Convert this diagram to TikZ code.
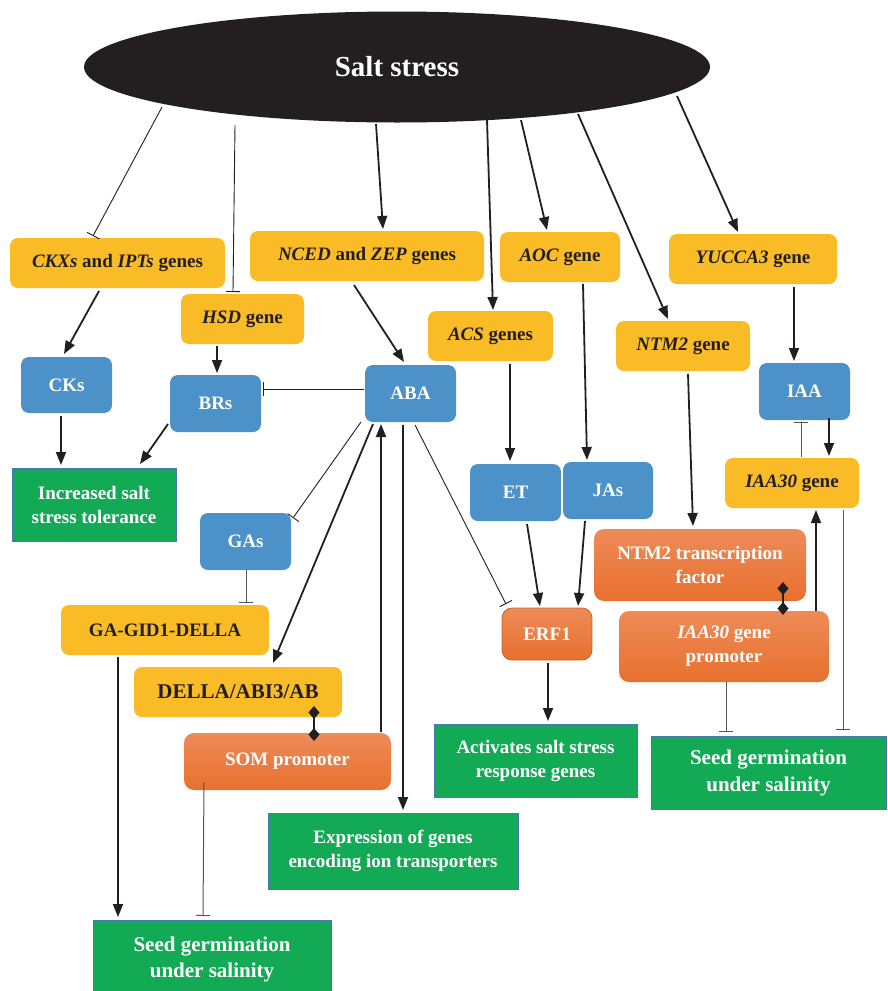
\documentclass[tikz,border=0pt]{standalone}
\usepackage{fontspec}
\setmainfont{Liberation Serif}
\usetikzlibrary{arrows.meta,calc,shapes.geometric}
\definecolor{yfill}{HTML}{F9BC27}
\definecolor{bfill}{HTML}{4C91C7}
\definecolor{gfill}{HTML}{12AA54}
\definecolor{gedge}{HTML}{4F72B8}
\definecolor{otop}{HTML}{EE8B59}
\definecolor{obot}{HTML}{E8702D}
\definecolor{oedge}{HTML}{C4622A}
\definecolor{txt}{HTML}{231F20}
\definecolor{lc}{HTML}{231F20}
\definecolor{lgray}{HTML}{555555}
\begin{document}
\begin{tikzpicture}[x=1pt,y=-1pt,
 base/.style={inner sep=0pt, align=center, font=\fontsize{19}{24}\selectfont\bfseries},
 ygene/.style={base, fill=yfill, rounded corners=8pt, text=txt},
 hbox/.style={base, fill=bfill, rounded corners=8pt, text=white},
 gbox/.style={base, fill=gfill, draw=gedge, line width=0.8pt, text=white},
 obox/.style={base, top color=otop, bottom color=obot, rounded corners=10pt, text=white},
 actv/.style={-{Triangle[length=13pt,width=10pt]}, line width=1.8pt, draw=lc},
 inh/.style={-{Bar[width=14pt]}, line width=0.9pt, draw=lc},
 inhg/.style={-{Bar[width=14pt]}, line width=1pt, draw=lgray},
 bind/.style={{Diamond[length=13pt,width=11pt]}-{Diamond[length=13pt,width=11pt]}, line width=1.6pt, draw=lc},
]
\useasboundingbox (0,0) rectangle (887,991);

% top ellipse
\node[ellipse, fill=txt, minimum width=626pt, minimum height=111pt, inner sep=0pt,
      text=white, font=\fontsize{29}{34}\selectfont\bfseries] (salt) at (397,67) {Salt stress};

% yellow gene boxes
\node[ygene, minimum width=215pt, minimum height=50pt] (ckxs) at (117.5,263) {\textit{CKXs} and \textit{IPTs} genes};
\node[ygene, minimum width=123pt, minimum height=50pt] (hsd) at (242.5,319) {\textit{HSD} gene};
\node[ygene, minimum width=234pt, minimum height=50pt] (nced) at (367,256) {\textit{NCED} and \textit{ZEP} genes};
\node[ygene, minimum width=120pt, minimum height=50pt] (aoc) at (560,257) {\textit{AOC} gene};
\node[ygene, minimum width=125pt, minimum height=50pt] (acs) at (490.5,336) {\textit{ACS} genes};
\node[ygene, minimum width=168pt, minimum height=50pt] (yucca) at (753,259) {\textit{YUCCA3} gene};
\node[ygene, minimum width=134pt, minimum height=50pt] (ntmg) at (683,346) {\textit{NTM2} gene};
\node[ygene, minimum width=134pt, minimum height=50pt] (iaag) at (792,483) {\textit{IAA30} gene};
\node[ygene, minimum width=208pt, minimum height=50pt] (gagid) at (165,630) {GA-GID1-DELLA};
\node[ygene, minimum width=208pt, minimum height=50pt, font=\fontsize{21}{25}\selectfont\bfseries] (della) at (238,692) {DELLA/ABI3/AB};

% blue hormone boxes
\node[hbox, minimum width=91pt, minimum height=56pt] (cks) at (66.5,385) {CKs};
\node[hbox, minimum width=91pt, minimum height=57pt] (brs) at (215.5,403.5) {BRs};
\node[hbox, minimum width=91pt, minimum height=57pt] (aba) at (410.5,393.5) {ABA};
\node[hbox, minimum width=91pt, minimum height=57pt] (iaa) at (804.5,391.5) {IAA};
\node[hbox, minimum width=91pt, minimum height=57pt] (gas) at (245.5,541.5) {GAs};
\node[hbox, minimum width=91pt, minimum height=57pt] (et) at (515.5,492.5) {ET};
\node[hbox, minimum width=90pt, minimum height=57pt] (jas) at (608,490.5) {JAs};

% orange boxes
\node[obox, minimum width=212pt, minimum height=72pt] (ntmtf) at (700,565) {NTM2 transcription\\factor};
\node[obox, draw=oedge, line width=0.8pt, minimum width=90pt, minimum height=52pt] (erf) at (547,634) {ERF1};
\node[obox, minimum width=210pt, minimum height=71pt] (iaap) at (724,646.5) {\textit{IAA30} gene\\promoter};
\node[obox, minimum width=207pt, minimum height=57pt] (som) at (287.5,761.5) {SOM promoter};

% green outcome boxes
\node[gbox, minimum width=164pt, minimum height=73pt] (incr) at (94,504.5) {Increased salt\\stress tolerance};
\node[gbox, minimum width=203pt, minimum height=73pt] (act) at (535.5,760.5) {Activates salt stress\\response genes};
\node[gbox, minimum width=235pt, minimum height=73pt, font=\fontsize{21}{27}\selectfont\bfseries] (seedr) at (768.5,772.5) {Seed germination\\under salinity};
\node[gbox, minimum width=250pt, minimum height=76pt] (expr) at (393,851) {Expression of genes\\encoding ion transporters};
\node[gbox, minimum width=238pt, minimum height=78pt, font=\fontsize{21}{27}\selectfont\bfseries] (seedl) at (212,959) {\raisebox{4pt}{\begin{tabular}{@{}c@{}}Seed germination\\[-1pt]under salinity\end{tabular}}};

% connectors from salt stress
\draw[inh] ($(salt)+(-235,40)$) -- ($(ckxs)+(-24.5,-27)$);
\draw[inh] ($(salt)+(-162,58)$) -- ($(hsd)+(-9.5,-27)$);
\draw[actv] ($(salt)+(-21,57)$) -- ($(nced)+(16,-27)$);
\draw[actv] ($(salt)+(90,53)$) -- ($(acs)+(2.5,-26)$);
\draw[actv] ($(salt)+(124,53)$) -- ($(aoc)+(-13,-27)$);
\draw[actv] ($(salt)+(181,47)$) -- ($(ntmg)+(-15,-27)$);
\draw[actv] ($(salt)+(280,29)$) -- ($(yucca)+(-15,-27)$);

% gene -> hormone
\draw[actv] ($(ckxs)+(-18.5,28)$) -- ($(cks)+(-2.5,-31)$);
\draw[actv] ($(hsd)+(-25.5,27)$) -- ($(brs)+(1.5,-30.5)$);
\draw[actv] ($(nced)+(-13,29)$) -- ($(aba)+(-6.5,-31.5)$);
\draw[actv] ($(acs)+(19.5,28)$) -- ($(et)+(-5.5,-31.5)$);
\draw[actv] ($(aoc)+(23,27)$) -- ($(jas)+(-21,-30.5)$);
\draw[actv] ($(ntmg)+(5,28)$) -- ($(ntmtf)+(-7,-39)$);
\draw[actv] ($(yucca)+(41,28)$) -- ($(iaa)+(-10.5,-30.5)$);

% left branch
\draw[actv] ($(cks)+(-5.5,31)$) -- ($(incr)+(-33,-39.5)$);
\draw[actv] ($(brs)+(-47.5,20.5)$) -- ($(incr)+(46,-40.5)$);
\draw[inh] ($(aba)+(-46.5,-4.5)$) -- ($(brs)+(47.5,-14.5)$);
\draw[inh] ($(aba)+(-49.5,28.5)$) -- ($(gas)+(47.5,-23.5)$);
\draw[actv] ($(aba)+(-37.5,30.5)$) -- ($(della)+(35,-29)$);
\draw[actv] ($(som)+(93.5,-29.5)$) -- ($(aba)+(-29.5,30.5)$);
\draw[actv] ($(aba)+(-7.5,31.5)$) -- ($(expr)+(10,-41)$);
\draw[inh] ($(aba)+(4.5,31.5)$) -- ($(erf)+(-41,-30)$);
\draw[inhg] ($(gas)+(0.5,28.5)$) -- ($(gagid)+(81,-27)$);
\draw[actv] ($(gagid)+(-47,27)$) -- ($(seedl)+(-94,-42)$);
\draw[inhg] ($(som)+(-83.5,20.5)$) -- ($(seedl)+(-9,-43)$);
\draw[bind] ($(della)+(76,14)$) -- ($(som)+(26.5,-20.5)$);

% middle branch
\draw[actv] ($(et)+(11.5,31.5)$) -- ($(erf)+(-7,-28)$);
\draw[actv] ($(jas)+(-23,30.5)$) -- ($(erf)+(31,-28)$);
\draw[actv] ($(erf)+(1,29)$) -- ($(act)+(12.5,-39.5)$);

% right branch
\draw[inhg] ($(iaag)+(9,-26)$) -- ($(iaa)+(-3.5,30.5)$);
\draw[actv] ($(iaa)+(24.5,26.5)$) -- ($(iaag)+(37,-27)$);
\draw[actv] ($(iaap)+(92,-35.5)$) -- ($(iaag)+(24,27)$);
\draw[inhg] ($(iaag)+(51,27)$) -- ($(seedr)+(74.5,-42.5)$);
\draw[inhg] ($(iaap)+(2,35.5)$) -- ($(seedr)+(-42.5,-40.5)$);
\draw[bind] ($(ntmtf)+(83,17)$) -- ($(iaap)+(59,-31.5)$);
\end{tikzpicture}
\end{document}
